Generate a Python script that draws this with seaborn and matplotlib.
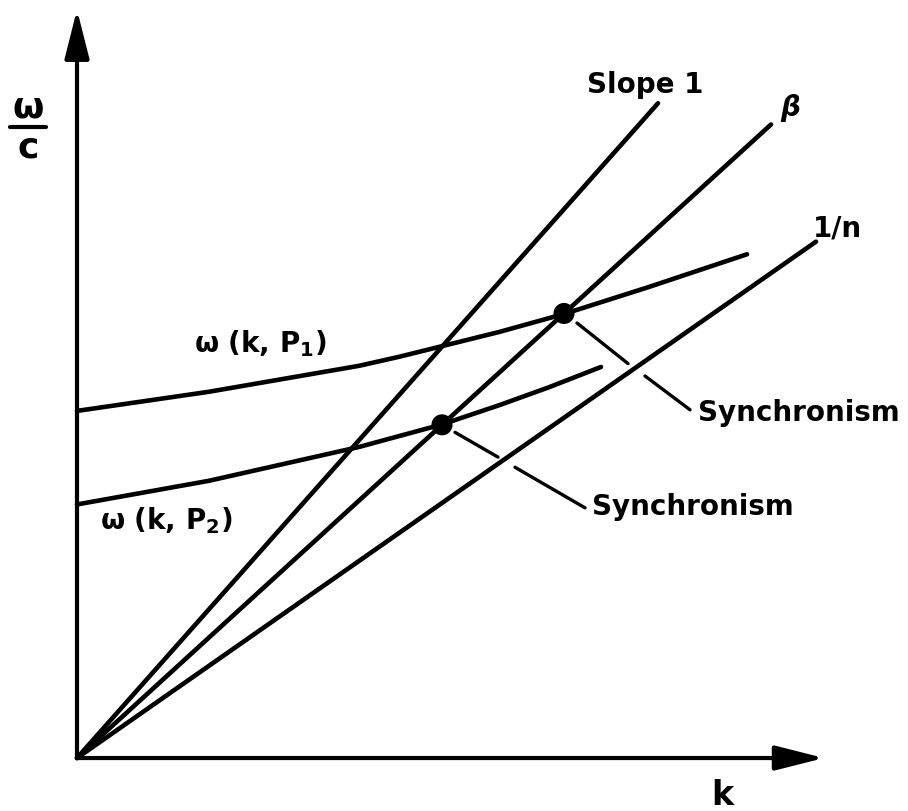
import numpy as np
import pandas as pd
import seaborn as sns
import matplotlib
matplotlib.use("Agg")
import matplotlib.pyplot as plt

sns.set_theme(style="white")
plt.rcParams["font.family"] = ["DejaVu Sans"]
plt.rcParams["mathtext.fontset"] = "dejavusans"

# Straight lines through the origin: omega/c = slope * k
line_names = ["Slope 1", "β", "1/n"]
line_slopes = [1.00, 0.81, 0.62]
line_k_end = [5.81, 6.94, 7.39]

# Dispersion curves omega(k, P) for the two parameter values
k_p1 = [0.00, 1.32, 2.82, 3.22, 4.22, 4.87, 5.72, 6.70]
w_p1 = [3.08, 3.25, 3.48, 3.56, 3.78, 3.94, 4.18, 4.47]
k_p2 = [0.00, 1.32, 2.82, 3.65, 4.22, 4.72, 5.24]
w_p2 = [2.25, 2.46, 2.76, 2.96, 3.13, 3.29, 3.47]

# Synchronism points: where each curve meets the beta line
sync_k = [4.87, 3.65]
beta = line_slopes[1]
sync_w = [beta * k for k in sync_k]

# Leader lines from the synchronism points to their labels (broken at the 1/n line)
leaders = [
    [((5.00, 3.86), (5.51, 3.50)), ((5.68, 3.39), (6.13, 3.09))],
    [((3.78, 2.89), (4.21, 2.67)), ((4.38, 2.58), (5.08, 2.22))],
]
sync_label = "Synchronism"

fig = plt.figure(figsize=(9.08, 8.11), dpi=100)
ax = fig.add_axes([0, 0, 1, 1])
ax.set_xlim(-0.77, 8.31)
ax.set_ylim(-0.470, 6.726)
ax.axis("off")

LW = 3.3
ink = "black"

# lines through the origin
for name, s, ke in zip(line_names, line_slopes, line_k_end):
    df = pd.DataFrame({"k": [0.0, ke], "w": [0.0, s * ke]})
    sns.lineplot(data=df, x="k", y="w", ax=ax, color=ink, lw=LW,
                 solid_capstyle="round", sort=False)

# dispersion curves
for ks, ws in [(k_p1, w_p1), (k_p2, w_p2)]:
    df = pd.DataFrame({"k": ks, "w": ws})
    sns.lineplot(data=df, x="k", y="w", ax=ax, color=ink, lw=LW,
                 solid_capstyle="round", solid_joinstyle="round", sort=False)

# synchronism points
sns.scatterplot(x=sync_k, y=sync_w, ax=ax, s=230, color=ink,
                edgecolor="none", zorder=5)

# leaders
for segs in leaders:
    for (x0, y0), (x1, y1) in segs:
        ax.plot([x0, x1], [y0, y1], color=ink, lw=2.4, solid_capstyle="round")

# axes with arrow heads
arrow = dict(arrowstyle="-|>,head_length=1.5,head_width=0.38", color=ink,
             lw=3, mutation_scale=20, shrinkA=0, shrinkB=0)
ax.annotate("", xy=(7.47, 0.0), xytext=(0.0, 0.0), arrowprops=arrow)
ax.annotate("", xy=(0.0, 6.64), xytext=(0.0, 0.0), arrowprops=arrow)

fs = 20
tkw = dict(color=ink, fontsize=fs, fontweight="bold")
ax.text(5.68, 5.97, line_names[0], ha="center", va="center", **tkw)
ax.text(7.13, 5.77, line_names[1], ha="center", va="center", fontstyle="italic",
        **tkw)
ax.text(7.60, 4.70, line_names[2], ha="center", va="center", **tkw)

ax.text(1.83, 3.68, r"ω (k, P$_{\mathbf{1}}$)", ha="center", va="center", **tkw)
ax.text(0.89, 2.11, r"ω (k, P$_{\mathbf{2}}$)", ha="center", va="center", **tkw)

ax.text(6.21, 3.06, sync_label, ha="left", va="center", **tkw)
ax.text(5.15, 2.23, sync_label, ha="left", va="center", **tkw)

ax.text(6.45, -0.33, "k", ha="center", va="center", color=ink, fontsize=24,
        fontweight="bold")

# vertical-axis label written as a fraction omega over c
ax.text(-0.49, 5.77, "ω", ha="center", va="center", color=ink, fontsize=26,
        fontweight="bold")
ax.plot([-0.67, -0.31], [5.60, 5.60], color=ink, lw=3.0)
ax.text(-0.49, 5.42, "c", ha="center", va="center", color=ink, fontsize=26,
        fontweight="bold")

fig.savefig("out.png", dpi=100)
